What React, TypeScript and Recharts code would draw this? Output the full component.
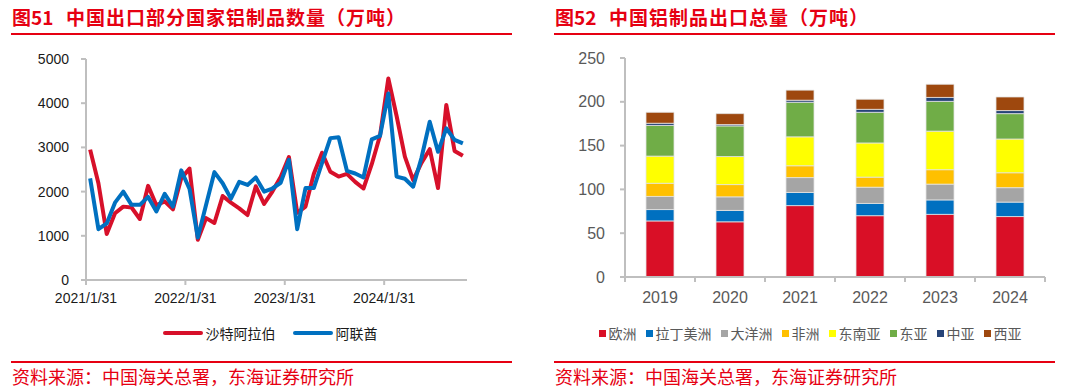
import { Bar, BarChart, Line, LineChart, XAxis, YAxis } from "recharts";

// ---- Figure 51: monthly aluminium product exports to two countries (10k t)
const countries = ["沙特阿拉伯", "阿联酋"];
const countryColors = ["#D7102A", "#0070C0"];

const saudi = [
  2950, 2190, 1040, 1510, 1660, 1640, 1380, 2130, 1690, 1780, 1600, 2300,
  2520, 910, 1400, 1290, 1900, 1750, 1620, 1470, 2120, 1720, 2000, 2330,
  2780, 1520, 1660, 2400, 2880, 2450, 2340, 2400, 2220, 2070, 2620, 3270,
  4560, 3710, 2790, 2260, 2650, 2960, 2080, 3960, 2920, 2810,
];
const uae = [
  2300, 1150, 1280, 1750, 2000, 1700, 1700, 1880, 1550, 1950, 1660, 2480,
  2060, 960, 1700, 2440, 2190, 1840, 2220, 2150, 2320, 2000, 2070, 2200,
  2720, 1150, 2080, 2080, 2650, 3210, 3230, 2470, 2410, 2320, 3180, 3260,
  4220, 2340, 2290, 2110, 2760, 3580, 2900, 3430, 3170, 3090,
];
const lineTicks = [0, 12, 24, 36];
const lineTickLabels = ["2021/1/31", "2022/1/31", "2023/1/31", "2024/1/31"];
const lineYTicks = [0, 1000, 2000, 3000, 4000, 5000];

// ---- Figure 52: yearly aluminium product exports by region (10k t)
const years = ["2019", "2020", "2021", "2022", "2023", "2024"];
const regions = ["欧洲", "拉丁美洲", "大洋洲", "非洲", "东南亚", "东亚", "中亚", "西亚"];
const regionColors = [
  "#D90F26",
  "#0070C0",
  "#A5A5A5",
  "#FFC000",
  "#FFFF00",
  "#70AD47",
  "#264478",
  "#9E480E",
];
const europe = [64, 63, 81.5, 70, 71.5, 69];
const latinAmerica = [13, 13, 15, 14, 16.5, 16.5];
const oceania = [15, 15.5, 17, 18.5, 18, 16.5];
const africa = [15, 14, 13.5, 11.5, 16.5, 17];
const southeastAsia = [31, 32, 33, 39, 44, 38.5];
const eastAsia = [35, 35, 39.5, 35, 34, 29];
const centralAsia = [2.5, 1.5, 2.3, 3.4, 4.5, 3.5];
const westAsia = [12.5, 12.5, 11.5, 11.5, 15, 15.5];
const barYTicks = [0, 50, 100, 150, 200, 250];

const regionSeries = [
  europe,
  latinAmerica,
  oceania,
  africa,
  southeastAsia,
  eastAsia,
  centralAsia,
  westAsia,
];

const lineData = saudi.map((v, i) => ({ x: i + 0.5, saudi: v, uae: uae[i] }));
const barData = years.map((year, i) => {
  const row: Record<string, string | number> = { year };
  regions.forEach((r, k) => {
    row[r] = regionSeries[k][i];
  });
  return row;
});

const RED = "#E60012";
const CJK = '"Noto Sans CJK SC", "Noto Sans", sans-serif';
const NUM = '"Liberation Sans", Arial, sans-serif';
const AXIS_GRAY = "#BFBFBF";

const BAR_PLOT_W = 420;

function Header({ left, fig, title }: { left: number; fig: string; title: string }) {
  return (
    <>
      <div
        style={{
          position: "absolute",
          left,
          top: 5,
          color: RED,
          fontFamily: CJK,
          fontSize: 19,
          fontWeight: 700,
          lineHeight: "24px",
          whiteSpace: "nowrap",
        }}
      >
        {fig}
      </div>
      <div
        style={{
          position: "absolute",
          left: left + 54,
          top: 5,
          color: RED,
          fontFamily: CJK,
          fontSize: 19,
          fontWeight: 700,
          letterSpacing: 1,
          lineHeight: "24px",
          whiteSpace: "nowrap",
        }}
      >
        {title}
      </div>
      <div
        style={{
          position: "absolute",
          left: left - 1,
          top: 33,
          width: 501,
          height: 2,
          background: RED,
        }}
      />
    </>
  );
}

function Source({ left }: { left: number }) {
  return (
    <>
      <div
        style={{
          position: "absolute",
          left: left - 1,
          top: 361,
          width: 501,
          height: 2,
          background: RED,
        }}
      />
      <div
        style={{
          position: "absolute",
          left,
          top: 365,
          color: RED,
          fontFamily: CJK,
          fontSize: 18,
          lineHeight: "22px",
          whiteSpace: "nowrap",
        }}
      >
        资料来源：中国海关总署，东海证券研究所
      </div>
    </>
  );
}

function YearTick(props: any) {
  const { x, y, payload, index } = props;
  const band = BAR_PLOT_W / years.length;
  return (
    <g>
      <line x1={x - band / 2} x2={x - band / 2} y1={y - 15} y2={y - 10} stroke={AXIS_GRAY} strokeWidth={2} />
      {index === years.length - 1 && (
        <line x1={x + band / 2} x2={x + band / 2} y1={y - 15} y2={y - 10} stroke={AXIS_GRAY} strokeWidth={2} />
      )}
      <text x={x} y={y} dy="0.71em" textAnchor="middle" fill="#595959" fontSize={16} fontFamily={NUM}>
        {payload.value}
      </text>
    </g>
  );
}

export default function App() {
  return (
    <div
      style={{
        position: "absolute",
        left: 0,
        top: 0,
        width: 1080,
        height: 389,
        background: "#fff",
        overflow: "hidden",
      }}
    >
      <Header left={12} fig="图51" title="中国出口部分国家铝制品数量（万吨）" />
      <Header left={555} fig="图52" title="中国铝制品出口总量（万吨）" />

      {/* left line chart */}
      <div style={{ position: "absolute", left: 0, top: 0 }}>
        <LineChart
          width={540}
          height={389}
          data={lineData}
          margin={{ top: 59, right: 73, bottom: 79, left: 0 }}
        >
          <XAxis
            type="number"
            dataKey="x"
            domain={[0, 46]}
            ticks={lineTicks}
            interval={0}
            allowDataOverflow
            tickFormatter={(v) => lineTickLabels[lineTicks.indexOf(v)] ?? ""}
            axisLine={{ stroke: AXIS_GRAY, strokeWidth: 2 }}
            tickLine={{ stroke: AXIS_GRAY, strokeWidth: 2 }}
            tickSize={5}
            tickMargin={8}
            tick={{ fill: "#1a1a1a", fontSize: 14, fontFamily: NUM }}
            height={30}
          />
          <YAxis
            domain={[0, 5000]}
            ticks={lineYTicks}
            interval={0}
            width={86}
            axisLine={{ stroke: AXIS_GRAY, strokeWidth: 2 }}
            tickLine={{ stroke: AXIS_GRAY, strokeWidth: 2 }}
            tickSize={5}
            tickMargin={12}
            tick={{ fill: "#1a1a1a", fontSize: 14, fontFamily: NUM }}
          />
          <Line
            type="linear"
            dataKey="saudi"
            name={countries[0]}
            stroke={countryColors[0]}
            strokeWidth={4}
            strokeLinejoin="round"
            dot={false}
            isAnimationActive={false}
          />
          <Line
            type="linear"
            dataKey="uae"
            name={countries[1]}
            stroke={countryColors[1]}
            strokeWidth={4}
            strokeLinejoin="round"
            dot={false}
            isAnimationActive={false}
          />
        </LineChart>
      </div>

      {/* left legend */}
      <div
        style={{
          position: "absolute",
          left: 0,
          top: 322,
          width: 540,
          display: "flex",
          justifyContent: "center",
          gap: 17,
          fontFamily: CJK,
          fontSize: 14,
          lineHeight: "22px",
          color: "#1a1a1a",
        }}
      >
        {countries.map((c, i) => (
          <div key={c} style={{ display: "flex", alignItems: "center" }}>
            <span
              style={{
                display: "inline-block",
                width: 40,
                height: 4,
                borderRadius: 2,
                background: countryColors[i],
                marginRight: 3,
              }}
            />
            {c}
          </div>
        ))}
      </div>

      {/* right stacked bar chart */}
      <div style={{ position: "absolute", left: 540, top: 0 }}>
        <BarChart
          width={540}
          height={389}
          data={barData}
          margin={{ top: 58, right: 35, bottom: 82, left: 0 }}
        >
          <XAxis
            dataKey="year"
            axisLine={{ stroke: AXIS_GRAY, strokeWidth: 2 }}
            tickLine={false}
            tickSize={5}
            tickMargin={10}
            tick={<YearTick />}
            interval={0}
            height={30}
          />
          <YAxis
            domain={[0, 250]}
            ticks={barYTicks}
            interval={0}
            width={85}
            axisLine={{ stroke: AXIS_GRAY, strokeWidth: 2 }}
            tickLine={{ stroke: AXIS_GRAY, strokeWidth: 2 }}
            tickSize={5}
            tickMargin={15}
            tick={{ fill: "#595959", fontSize: 16, fontFamily: NUM }}
          />
          {regions.map((r, k) => (
            <Bar
              key={r}
              dataKey={r}
              stackId="total"
              barSize={28}
              fill={regionColors[k]}
              stroke="#E3E3E3"
              strokeWidth={0.8}
              isAnimationActive={false}
            />
          ))}
        </BarChart>
      </div>

      {/* right legend */}
      <div
        style={{
          position: "absolute",
          left: 540,
          top: 322,
          width: 540,
          display: "flex",
          justifyContent: "center",
          gap: 9,
          fontFamily: CJK,
          fontSize: 14,
          lineHeight: "22px",
          color: "#595959",
        }}
      >
        {regions.map((r, k) => (
          <div key={r} style={{ display: "flex", alignItems: "center" }}>
            <span
              style={{
                display: "inline-block",
                width: 7,
                height: 7,
                background: regionColors[k],
                marginRight: 3,
              }}
            />
            {r}
          </div>
        ))}
      </div>

      <Source left={12} />
      <Source left={555} />
    </div>
  );
}
